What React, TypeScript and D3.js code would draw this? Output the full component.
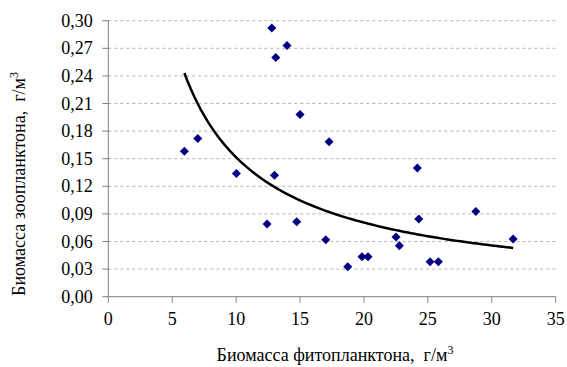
import React from "react";
import * as d3 from "d3";

const phyto = [5.95, 7.0, 10.02, 12.79, 13.1, 13.98, 15.0, 13.0, 12.42, 14.74, 17.27, 17.01, 18.73, 19.85, 20.32, 22.51, 22.77, 24.18, 24.29, 25.17, 25.82, 28.75, 31.67];
const zoo = [0.158, 0.172, 0.134, 0.292, 0.26, 0.273, 0.198, 0.132, 0.079, 0.0815, 0.1685, 0.062, 0.0326, 0.0435, 0.0435, 0.065, 0.0555, 0.14, 0.0845, 0.038, 0.038, 0.0925, 0.0627];
const xTicks = [0, 5, 10, 15, 20, 25, 30, 35];
const yTicks = [0, 0.03, 0.06, 0.09, 0.12, 0.15, 0.18, 0.21, 0.24, 0.27, 0.3];

const W = 567, H = 367;
const left = 108.3, right = 555.7, top = 20.7, bottom = 296.7;

export default function App() {
  const x = d3.scaleLinear().domain([0, 35]).range([left, right]);
  const y = d3.scaleLinear().domain([0, 0.3]).range([bottom, top]);

  // power trendline (least squares on logs), as Excel does
  const lx = phyto.map(Math.log), ly = zoo.map(Math.log);
  const mx = d3.mean(lx)!, my = d3.mean(ly)!;
  let sxy = 0, sxx = 0;
  lx.forEach((v, i) => { sxy += (v - mx) * (ly[i] - my); sxx += (v - mx) * (v - mx); });
  const b = sxy / sxx;
  const a = Math.exp(my - b * mx);
  const x0 = d3.min(phyto)!, x1 = d3.max(phyto)!;
  const pts: [number, number][] = d3.range(0, 101).map(i => {
    const xv = x0 + (x1 - x0) * i / 100;
    return [xv, a * Math.pow(xv, b)];
  });
  const line = d3.line<[number, number]>().x(d => x(d[0])).y(d => y(d[1]));

  const fmt = (v: number) => v.toFixed(2).replace(".", ",");
  const font = "'Liberation Serif', 'DejaVu Serif', serif";
  const diamond = d3.symbol().type(d3.symbolDiamond2).size(52)()!;

  return (
    <svg width={W} height={H} style={{ position: "absolute", left: 0, top: 0, background: "#fff", fontFamily: font }}>
      {yTicks.filter(t => t > 0).map(t => (
        <line key={"g" + t} x1={left} x2={right} y1={y(t)} y2={y(t)} stroke="#b4b4b4" strokeWidth={1} strokeDasharray="3,3" />
      ))}
      <line x1={left} x2={left} y1={top} y2={bottom} stroke="#808080" strokeWidth={1} />
      <line x1={left} x2={right} y1={bottom} y2={bottom} stroke="#808080" strokeWidth={1} />
      {yTicks.map(t => (
        <g key={"y" + t}>
          <line x1={left - 6} x2={left} y1={y(t)} y2={y(t)} stroke="#808080" />
          <text x={92.7} y={y(t) + 6} textAnchor="end" fontSize={18} fill="#000" style={{ fontFamily: font }}>{fmt(t)}</text>
        </g>
      ))}
      {xTicks.map(t => (
        <g key={"x" + t}>
          <line x1={x(t)} x2={x(t)} y1={bottom} y2={bottom + 6} stroke="#808080" />
          <text x={x(t)} y={325} textAnchor="middle" fontSize={18} fill="#000" style={{ fontFamily: font }}>{t}</text>
        </g>
      ))}
      <path d={line(pts)!} fill="none" stroke="#000" strokeWidth={2.5} />
      {phyto.map((v, i) => (
        <path key={"p" + i} d={diamond} transform={`translate(${x(v)},${y(zoo[i])})`} fill="#000080" />
      ))}
      <text x={335} y={361} textAnchor="middle" fontSize={18} fill="#000" style={{ fontFamily: font, whiteSpace: "pre" }}>
        {"Биомасса фитопланктона,  г/м"}<tspan dy={-7} fontSize={12}>3</tspan>
      </text>
      <text transform={`translate(25,184) rotate(-90)`} textAnchor="middle" fontSize={18} fill="#000" style={{ fontFamily: font, whiteSpace: "pre" }}>
        {"Биомасса зоопланктона,  г/м"}<tspan dy={-7} fontSize={12}>3</tspan>
      </text>
    </svg>
  );
}
